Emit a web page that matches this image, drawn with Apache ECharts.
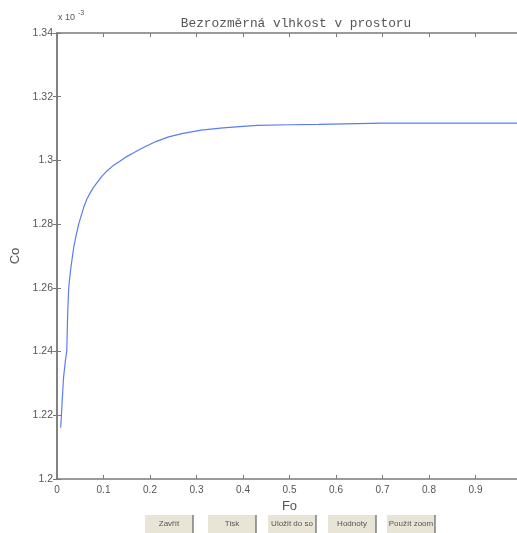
<!DOCTYPE html>
<html>
<head>
<meta charset="utf-8">
<script src="https://cdn.jsdelivr.net/npm/echarts@6/dist/echarts.min.js"></script>
<style>html,body{margin:0;padding:0;background:#fff;}#c{width:517px;height:533px;}</style>
</head>
<body>
<div id="c"></div>
<script>
const titleText = 'Bezrozměrná vlhkost v prostoru';
const xName = 'Fo';
const yName = 'Co';
const exponentLabel = 'x 10';
const exponentSup = '-3';
const buttonLabels = ['Zavřít', 'Tisk', 'Uložit do souboru', 'Hodnoty', 'Použít zoom'];
const foValues = [0.008,0.011,0.014,0.018,0.021,0.023,0.025,0.0265,0.030,0.0358,0.040,0.0466,0.0573,0.0640,0.0717,0.079,0.086,0.096,0.1075,0.120,0.136,0.150,0.165,0.1795,0.1935,0.214,0.240,0.271,0.310,0.357,0.400,0.430,0.500,0.563,0.565,0.700,0.850,1.000];
const coValues = [1.2161,1.2240,1.2318,1.2370,1.2402,1.2520,1.2595,1.2620,1.2665,1.2726,1.2757,1.2800,1.2852,1.2878,1.2899,1.2916,1.2930,1.2949,1.2967,1.2983,1.2998,1.3012,1.3024,1.3036,1.3046,1.3060,1.3074,1.3085,1.3095,1.3102,1.3107,1.3110,1.3112,1.3113,1.3117,1.3117,1.3117,1.3117];

const chart = echarts.init(document.getElementById('c'));
const axisColor = '#7a7a7a';
const textColor = '#555';
const btnX = [145, 208, 268, 328, 387];
const btnW = 48;
const graphics = [
  {type:'text', left:58, top:13, style:{text:exponentLabel, fontSize:9, fill:textColor, fontFamily:'Liberation Sans'}},
  {type:'text', left:78, top:10, style:{text:exponentSup, fontSize:7, fill:textColor, fontFamily:'Liberation Sans'}}
];
buttonLabels.forEach((b,i)=>{
  graphics.push({type:'rect', shape:{x:btnX[i], y:515, width:btnW, height:20}, style:{fill:'#e9e5d6', stroke:null}});
  graphics.push({type:'line', shape:{x1:btnX[i]+btnW, y1:515, x2:btnX[i]+btnW, y2:535}, style:{stroke:'#444', lineWidth:1}});
  graphics.push({type:'text', x:btnX[i]+btnW/2, y:524, style:{text:b, fontSize:8, fill:'#555', align:'center', verticalAlign:'middle', fontFamily:'Liberation Sans', width:btnW-2, overflow:'truncate', ellipsis:''}});
});
chart.setOption({
  animation:false,
  backgroundColor:'#fff',
  title:{text:titleText, left:291, top:12, textAlign:'center', textStyle:{fontFamily:'Liberation Mono', fontSize:12.8, fontWeight:'normal', color:textColor}},
  grid:{left:57, top:33, width:465, height:446, outerBoundsMode:'none', containLabel:false},
  xAxis:[{
    type:'value', min:0, max:1, interval:0.1,
    name:xName, nameLocation:'middle', nameGap:20, nameTextStyle:{fontSize:13, color:textColor, fontFamily:'Liberation Sans'},
    axisLine:{onZero:false, lineStyle:{color:axisColor, width:1.5}},
    axisTick:{inside:true, length:4, lineStyle:{color:axisColor}},
    axisLabel:{fontSize:10, color:textColor, margin:6, fontFamily:'Liberation Sans'},
    splitLine:{show:false}
  },{
    type:'value', position:'top', min:0, max:1, interval:0.1,
    axisLine:{lineStyle:{color:axisColor, width:1.5}},
    axisTick:{inside:true, length:4, lineStyle:{color:axisColor}},
    axisLabel:{show:false}, splitLine:{show:false}
  }],
  yAxis:[{
    type:'value', min:1.2, max:1.34, interval:0.02,
    name:yName, nameLocation:'middle', nameGap:31, nameTextStyle:{fontSize:13, color:textColor, fontFamily:'Liberation Sans'},
    axisLine:{onZero:false, lineStyle:{color:axisColor, width:1.5}},
    axisTick:{inside:true, length:4, lineStyle:{color:axisColor}},
    axisLabel:{fontSize:10.5, color:textColor, margin:4, fontFamily:'Liberation Sans'},
    splitLine:{show:false}
  },{
    type:'value', position:'right', min:1.2, max:1.34, interval:0.02,
    axisLine:{lineStyle:{color:axisColor, width:1.5}},
    axisTick:{inside:true, length:4}, axisLabel:{show:false}, splitLine:{show:false}
  }],
  series:[{
    type:'line', xAxisIndex:0, yAxisIndex:0, symbol:'none', smooth:false,
    lineStyle:{color:'#5b7cf2', width:1.2},
    data:foValues.map((x,i)=>[x, coValues[i]])
  }],
  graphic:graphics
});
</script>
</body>
</html>
